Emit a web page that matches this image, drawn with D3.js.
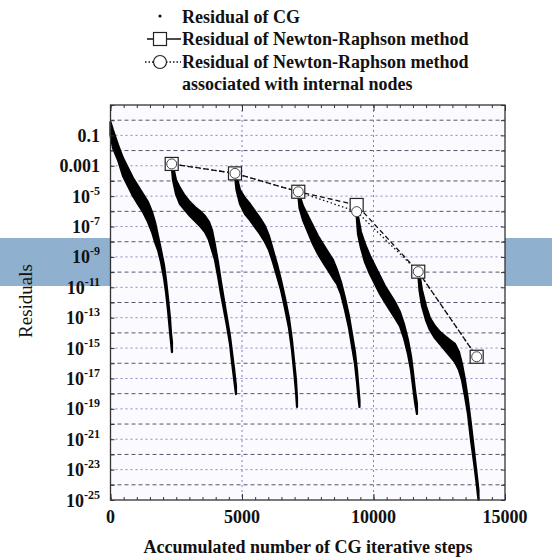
<!DOCTYPE html>
<html><head><meta charset="utf-8">
<script src="https://cdn.jsdelivr.net/npm/d3@7"></script>
<style>body{margin:0;background:#fff}svg{display:block}</style>
</head><body>
<svg id="c" width="552" height="558"></svg>
<script>
// ---- data ----
const xTickValues = [0, 5000, 10000, 15000];
const yLabelExps = [-1, -3, -5, -7, -9, -11, -13, -15, -17, -19, -21, -23, -25];

const cgSteps1 = [0,95,285,475,665,855,1046,1236,1426,1578,1692,1806,1920,2034,2110,2186,2262,2300,2338];
const cgHiExp1 = [-0.12,-0.65,-1.63,-2.49,-3.15,-3.81,-4.33,-4.86,-5.39,-6.04,-6.70,-7.62,-8.55,-9.53,-10.52,-11.71,-13.02,-14.01,-14.60];
const cgLoExp1 = [-0.98,-1.83,-2.62,-3.67,-4.33,-4.99,-5.52,-6.04,-6.70,-7.36,-8.02,-8.55,-9.34,-10.39,-11.31,-12.50,-13.94,-14.60,-15.26];

const cgSteps2 = [2327,2376,2490,2642,2832,3023,3213,3403,3593,3745,3859,3973,4087,4201,4315,4429,4543,4619,4695,4771];
const cgHiExp2 = [-2.88,-3.02,-3.94,-4.46,-4.99,-5.39,-5.72,-5.98,-6.31,-6.70,-7.23,-8.22,-9.34,-10.65,-11.84,-13.02,-14.21,-15.26,-16.31,-17.50];
const cgLoExp2 = [-3.02,-3.94,-4.86,-5.52,-5.91,-6.31,-6.64,-6.97,-7.36,-7.89,-8.55,-9.20,-10.26,-11.44,-12.50,-13.55,-14.73,-15.92,-16.97,-18.03];

const cgSteps3 = [4733,4791,4924,5114,5304,5494,5684,5874,6026,6178,6330,6482,6634,6786,6900,6977,7053,7091];
const cgHiExp3 = [-3.48,-3.67,-4.60,-5.12,-5.52,-5.98,-6.44,-6.97,-7.62,-8.55,-9.47,-10.52,-11.71,-13.02,-14.47,-15.79,-17.10,-18.29];
const cgLoExp3 = [-3.67,-4.60,-5.52,-6.18,-6.57,-7.03,-7.49,-8.02,-8.55,-9.34,-10.26,-11.18,-12.36,-13.68,-15.13,-16.45,-17.89,-18.88];

const cgSteps4 = [7140,7186,7319,7509,7699,7889,8079,8269,8459,8612,8764,8916,9068,9182,9296,9372,9429,9467];
const cgHiExp4 = [-4.73,-4.93,-5.65,-6.31,-6.97,-7.62,-8.15,-8.68,-9.20,-9.86,-10.65,-11.71,-12.89,-14.08,-15.26,-16.45,-17.63,-18.42];
const cgLoExp4 = [-4.93,-5.78,-6.57,-7.36,-8.15,-8.81,-9.34,-9.86,-10.39,-10.78,-11.44,-12.50,-13.68,-14.87,-16.05,-17.24,-18.29,-18.88];

const cgSteps5 = [9360,9410,9524,9676,9866,10056,10246,10436,10627,10817,11007,11159,11311,11425,11501,11577,11653];
const cgHiExp5 = [-6.04,-6.31,-7.36,-8.15,-8.94,-9.60,-10.26,-10.92,-11.44,-11.97,-12.63,-13.42,-14.47,-15.52,-16.58,-17.76,-18.68];
const cgLoExp5 = [-6.31,-7.49,-8.41,-9.34,-10.13,-10.78,-11.44,-11.97,-12.50,-13.02,-13.55,-14.34,-15.39,-16.45,-17.50,-18.55,-19.34];

const cgSteps6 = [11702,11748,11843,11995,12147,12337,12527,12717,12907,13098,13250,13364,13478,13592,13706,13820,13915,13991];
const cgHiExp6 = [-9.99,-10.13,-11.18,-12.23,-13.02,-13.55,-13.94,-14.21,-14.47,-14.73,-15.26,-16.05,-17.10,-18.42,-20.00,-21.71,-23.16,-24.35];
const cgLoExp6 = [-10.13,-11.18,-12.23,-13.15,-13.81,-14.34,-14.73,-15.13,-15.52,-15.92,-16.45,-17.10,-18.16,-19.34,-21.05,-22.50,-23.82,-25.00];

const nrSteps = [2327, 4733, 7140, 9360, 11702, 13923];
const nrExp = [-2.88, -3.50, -4.71, -5.58, -9.97, -15.57];
const nrInternalExp = [-2.88, -3.50, -4.71, -6.02, -9.97, -15.57];

const legendLabels = ["Residual of CG", "Residual of Newton-Raphson method", "Residual of Newton-Raphson method", "associated with internal nodes"];
const xTitle = "Accumulated number of CG iterative steps";
const yTitle = "Residuals";

// ---- drawing ----
const svg = d3.select("#c");
const FONT = "'Liberation Serif', 'Times New Roman', serif";
const L = 110.5, R = 505, T = 105, B = 500;
const x = d3.scaleLinear().domain([0, 15000]).range([L, R]);
const y = d3.scaleLog().domain([1e-25, 10]).range([B, T]);

// background band
svg.append("rect").attr("x", 0).attr("y", 238).attr("width", 552).attr("height", 48).attr("fill", "#8fb0cf");
// plot area
svg.append("rect").attr("x", L).attr("y", T).attr("width", R - L).attr("height", B - T).attr("fill", "#fbfbff");

// gridlines
const gridExps = d3.range(0, -25, -1);
svg.append("g").selectAll("line").data(gridExps).join("line")
  .attr("x1", L).attr("x2", R)
  .attr("y1", d => y(Math.pow(10, d))).attr("y2", d => y(Math.pow(10, d)))
  .attr("stroke", (d, i) => i % 2 ? "#8a8ac8" : "#55556a")
  .attr("stroke-width", 1)
  .attr("stroke-dasharray", (d, i) => i % 2 ? "2,3" : "4,3");
svg.append("g").selectAll("line").data([5000, 10000]).join("line")
  .attr("x1", d => x(d)).attr("x2", d => x(d)).attr("y1", T).attr("y2", B)
  .attr("stroke", "#7d7dd0").attr("stroke-width", 1).attr("stroke-dasharray", "2,3");

// CG runs
const cgRuns = [
  [cgSteps1, cgHiExp1, cgLoExp1], [cgSteps2, cgHiExp2, cgLoExp2], [cgSteps3, cgHiExp3, cgLoExp3],
  [cgSteps4, cgHiExp4, cgLoExp4], [cgSteps5, cgHiExp5, cgLoExp5], [cgSteps6, cgHiExp6, cgLoExp6]
].map(([s, hi, lo]) => s.map((v, i) => ({ s: v, hi: hi[i], lo: lo[i] })));
const area = d3.area().x(d => x(d.s)).y0(d => y(Math.pow(10, d.lo))).y1(d => y(Math.pow(10, d.hi)));
svg.append("g").selectAll("path").data(cgRuns).join("path")
  .attr("d", area).attr("fill", "#000").attr("stroke", "#000").attr("stroke-width", 2.2).attr("stroke-linejoin", "round");

// Newton-Raphson lines
const nrData = nrSteps.map((s, i) => ({ s, e: nrExp[i] }));
const nrIntData = nrSteps.map((s, i) => ({ s, e: nrInternalExp[i] }));
const line = d3.line().x(d => x(d.s)).y(d => y(Math.pow(10, d.e)));
svg.append("path").datum(nrData).attr("d", line).attr("fill", "none").attr("stroke", "#111").attr("stroke-width", 1.3).attr("stroke-dasharray", "5,3");
svg.append("path").datum(nrIntData).attr("d", line).attr("fill", "none").attr("stroke", "#111").attr("stroke-width", 1.3).attr("stroke-dasharray", "1.5,2.5");
svg.append("g").selectAll("rect").data(nrData).join("rect")
  .attr("x", d => x(d.s) - 6.5).attr("y", d => y(Math.pow(10, d.e)) - 6.5).attr("width", 13).attr("height", 13)
  .attr("fill", "#fff").attr("stroke", "#222").attr("stroke-width", 1.2);
svg.append("g").selectAll("circle").data(nrIntData).join("circle")
  .attr("cx", d => x(d.s)).attr("cy", d => y(Math.pow(10, d.e))).attr("r", 5)
  .attr("fill", "#fff").attr("stroke", "#444").attr("stroke-width", 1);

// frame
svg.append("rect").attr("x", L).attr("y", T).attr("width", R - L).attr("height", B - T)
  .attr("fill", "none").attr("stroke", "#333").attr("stroke-width", 1.3);

// ticks (inward)
const minorX = d3.range(0, 15001, 500);
function tickAxis(axis, tr) {
  const g = svg.append("g").attr("transform", tr).call(axis);
  g.select(".domain").remove();
  g.selectAll("text").remove();
  g.selectAll("line").attr("stroke", "#333");
}
tickAxis(d3.axisBottom(x).tickValues(minorX).tickSize(-3), `translate(0,${B})`);
tickAxis(d3.axisTop(x).tickValues(minorX).tickSize(-3), `translate(0,${T})`);
tickAxis(d3.axisBottom(x).tickValues(xTickValues).tickSize(-6), `translate(0,${B})`);
tickAxis(d3.axisTop(x).tickValues(xTickValues).tickSize(-6), `translate(0,${T})`);
const decades = d3.range(1, -26, -1).map(e => Math.pow(10, e));
tickAxis(d3.axisLeft(y).tickValues(decades).tickSize(-4), `translate(${L},0)`);
tickAxis(d3.axisRight(y).tickValues(decades).tickSize(-4), `translate(${R},0)`);

// x tick labels
svg.append("g").selectAll("text").data(xTickValues).join("text")
  .attr("x", d => x(d)).attr("y", 523).attr("text-anchor", "middle")
  .attr("font-family", FONT).attr("font-weight", "bold").attr("font-size", 18).attr("fill", "#111")
  .text(d => String(d));

// y tick labels
const yl = svg.append("g").selectAll("text").data(yLabelExps).join("text")
  .attr("x", 100).attr("y", d => y(Math.pow(10, d)) + 6.5).attr("text-anchor", "end")
  .attr("font-family", FONT).attr("font-weight", "bold").attr("font-size", 18).attr("fill", "#111");
yl.each(function (e) {
  const t = d3.select(this);
  if (e === -1) t.text("0.1");
  else if (e === -3) t.text("0.001");
  else {
    t.append("tspan").text("10");
    t.append("tspan").attr("dy", -8).attr("font-size", 12).text(String(e));
  }
});

// axis titles
svg.append("text").attr("x", 308).attr("y", 553).attr("text-anchor", "middle")
  .attr("font-family", FONT).attr("font-weight", "bold").attr("font-size", 18).attr("fill", "#111").text(xTitle);
svg.append("text").attr("transform", "translate(32,301) rotate(-90)").attr("text-anchor", "middle")
  .attr("font-family", FONT).attr("font-size", 19).attr("fill", "#111").text(yTitle);

// legend
const lg = svg.append("g");
const lx = 182, baselines = [22.5, 45, 67.5, 90];
lg.append("circle").attr("cx", 160).attr("cy", 16).attr("r", 1.6).attr("fill", "#111");
lg.append("line").attr("x1", 147).attr("x2", 181).attr("y1", 39).attr("y2", 39).attr("stroke", "#111").attr("stroke-width", 1.3);
lg.append("rect").attr("x", 153.5).attr("y", 32.5).attr("width", 13).attr("height", 13).attr("fill", "#fff").attr("stroke", "#222").attr("stroke-width", 1.2);
lg.append("line").attr("x1", 145).attr("x2", 181).attr("y1", 62).attr("y2", 62).attr("stroke", "#111").attr("stroke-width", 1.3).attr("stroke-dasharray", "1.5,2");
lg.append("circle").attr("cx", 160).attr("cy", 62).attr("r", 6.5).attr("fill", "#fff").attr("stroke", "#222").attr("stroke-width", 1.2);
lg.selectAll("text").data(legendLabels).join("text")
  .attr("x", lx).attr("y", (d, i) => baselines[i])
  .attr("font-family", FONT).attr("font-weight", "bold").attr("font-size", 18).attr("fill", "#111")
  .text(d => d);
</script>
</body></html>
